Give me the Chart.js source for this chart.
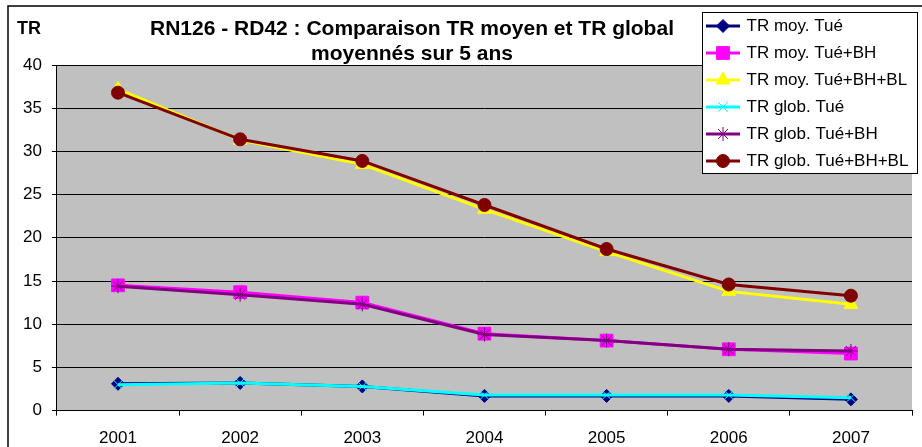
<!DOCTYPE html>
<html>
<head>
<meta charset="utf-8">
<script src="https://cdn.jsdelivr.net/npm/chart.js@4.4.1/dist/chart.umd.min.js"></script>
<style>
  html, body { margin: 0; padding: 0; background: #fff; }
  #wrap { width: 922px; height: 447px; }
</style>
</head>
<body>
<div id="wrap"><canvas id="trChart" width="922" height="447"></canvas></div>
<script>
// Data
const years = ['2001', '2002', '2003', '2004', '2005', '2006', '2007'];
const yTickValues = [0, 5, 10, 15, 20, 25, 30, 35, 40];

const moyTue      = [3.1, 3.2, 2.8, 1.7, 1.7, 1.7, 1.3];
const moyTueBH    = [14.5, 13.7, 12.5, 8.9, 8.1, 7.1, 6.6];
const moyTueBHBL  = [37.2, 31.3, 28.5, 23.3, 18.4, 13.8, 12.3];
const globTue     = [3.0, 3.2, 2.8, 1.8, 1.8, 1.8, 1.5];
const globTueBH   = [14.4, 13.4, 12.3, 8.8, 8.1, 7.1, 6.9];
const globTueBHBL = [36.8, 31.4, 28.9, 23.8, 18.7, 14.6, 13.3];

Chart.defaults.font.family = '"Liberation Sans", Arial, sans-serif';
Chart.defaults.color = '#000';

function series(label, data, color, style, radius, order) {
    return {
        label: label,
        data: data,
        borderColor: color,
        backgroundColor: color,
        borderWidth: 3,
        tension: 0,
        pointStyle: style,
        pointRadius: radius,
        pointHoverRadius: radius,
        pointBackgroundColor: color,
        pointBorderColor: color,
        pointBorderWidth: 1,
        order: order
    };
}

const datasets = [
    series('TR moy. Tué', moyTue, '#000080', 'rectRot', 6.5, 2),
    series('TR moy. Tué+BH', moyTueBH, '#FF00FF', 'rect', 9, 2),
    series('TR moy. Tué+BH+BL', moyTueBHBL, '#FFFF00', 'triangle', 8, 2),
    series('TR glob. Tué', globTue, '#00FFFF', 'crossRot', 6.5, 1),
    series('TR glob. Tué+BH', globTueBH, '#800080', 'star', 7, 1),
    series('TR glob. Tué+BH+BL', globTueBHBL, '#800000', 'circle', 6.5, 1)
];

// little line + marker picture for each legend entry
function legendSymbol(ds) {
    const c = document.createElement('canvas');
    c.width = 34;
    c.height = 18;
    const g = c.getContext('2d');
    g.strokeStyle = ds.borderColor;
    g.lineWidth = 3;
    g.beginPath();
    g.moveTo(0, 9);
    g.lineTo(34, 9);
    g.stroke();
    g.fillStyle = ds.pointBackgroundColor;
    g.strokeStyle = ds.pointBorderColor;
    g.lineWidth = 1;
    Chart.helpers.drawPoint(g, { pointStyle: ds.pointStyle, radius: ds.pointRadius, rotation: 0, borderWidth: 1 }, 17, 9);
    return c;
}
const symbols = datasets.map(legendSymbol);

// Grey plot background, frame and the "TR" label
const plotBackground = {
    id: 'plotBackground',
    beforeDraw(chart) {
        const { ctx, chartArea: a } = chart;
        ctx.save();
        ctx.fillStyle = '#fff';
        ctx.fillRect(0, 0, chart.width, chart.height);
        ctx.fillStyle = '#C0C0C0';
        ctx.fillRect(a.left, a.top, a.right - a.left, a.bottom - a.top);
        ctx.restore();
    },
    afterDraw(chart) {
        const ctx = chart.ctx;
        ctx.save();
        ctx.strokeStyle = '#000';
        ctx.lineWidth = 1.5;
        ctx.strokeRect(8, 6, 940, 460);
        ctx.font = 'bold 18px "Liberation Sans", Arial, sans-serif';
        ctx.fillStyle = '#000';
        ctx.textBaseline = 'alphabetic';
        ctx.fillText('TR', 17, 34);
        ctx.restore();
    }
};

// Place title and legend like the spreadsheet did
const excelLayout = {
    id: 'excelLayout',
    afterLayout(chart) {
        const t = chart.titleBlock;
        if (t) {
            t.left = 0;
            t.right = 824;
            t.width = 824;
        }
        const lg = chart.legend;
        if (lg) {
            lg.left = 698;
            lg.top = 7.5;
            lg.right = lg.left + lg.width;
            lg.bottom = lg.top + 200;
            lg.height = 200;
            if (!lg._boxed) {
                const draw = lg.draw.bind(lg);
                lg.draw = function () {
                    const ctx = chart.ctx;
                    ctx.save();
                    ctx.fillStyle = '#fff';
                    ctx.strokeStyle = '#000';
                    ctx.lineWidth = 1;
                    ctx.fillRect(702.5, 12.5, 215, 161);
                    ctx.strokeRect(702.5, 12.5, 215, 161);
                    ctx.restore();
                    draw();
                };
                lg._boxed = true;
            }
        }
    }
};

new Chart(document.getElementById('trChart'), {
    type: 'line',
    data: { labels: years, datasets: datasets },
    options: {
        responsive: false,
        animation: false,
        devicePixelRatio: 1,
        layout: { padding: { left: 13, right: 2, top: 0, bottom: -15 } },
        plugins: {
            title: {
                display: true,
                text: ['RN126 - RD42 : Comparaison TR moyen et TR global', 'moyennés sur 5 ans'],
                font: { size: 21, weight: 'bold', lineHeight: '25px' },
                color: '#000',
                padding: { top: 17, bottom: -2 }
            },
            legend: {
                display: true,
                position: 'chartArea',
                align: 'start',
                labels: {
                    usePointStyle: true,
                    pointStyleWidth: 30,
                    padding: 10,
                    color: '#000',
                    font: { size: 17 },
                    generateLabels(chart) {
                        return chart.data.datasets.map((ds, i) => ({
                            text: ds.label,
                            fillStyle: ds.backgroundColor,
                            strokeStyle: ds.borderColor,
                            lineWidth: 0,
                            pointStyle: symbols[i],
                            hidden: !chart.isDatasetVisible(i),
                            datasetIndex: i
                        }));
                    }
                }
            },
            tooltip: { enabled: false }
        },
        scales: {
            x: {
                offset: true,
                grid: {
                    offset: true,
                    drawOnChartArea: false,
                    drawTicks: true,
                    tickLength: 5,
                    color: '#000'
                },
                border: { color: '#000', width: 1 },
                ticks: { padding: 13, font: { size: 17 }, color: '#000', maxRotation: 0 }
            },
            y: {
                min: 0,
                max: 40,
                afterBuildTicks(scale) {
                    scale.ticks = yTickValues.map(v => ({ value: v }));
                },
                grid: {
                    color: '#000',
                    lineWidth: 1,
                    tickLength: 5,
                    z: -1
                },
                border: { color: '#000', width: 1 },
                ticks: { padding: 10, font: { size: 17 }, color: '#000' }
            }
        }
    },
    plugins: [plotBackground, excelLayout]
});
</script>
</body>
</html>
